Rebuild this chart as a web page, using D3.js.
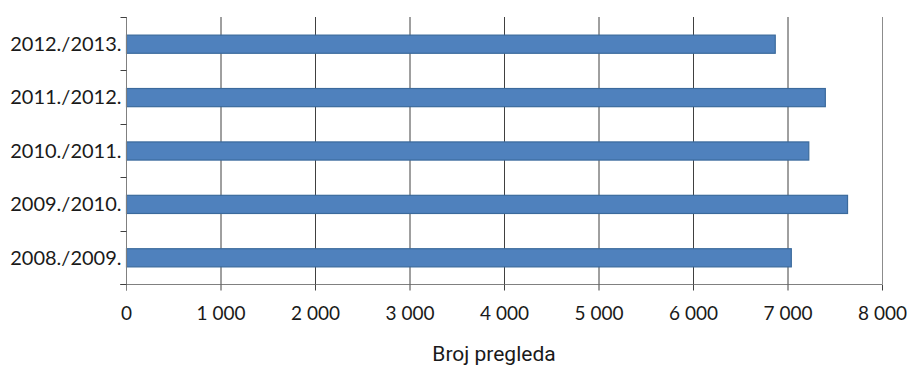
<!DOCTYPE html>
<html><head><meta charset="utf-8">
<script src="https://cdn.jsdelivr.net/npm/d3@7"></script>
<style>body{margin:0;background:#fff}svg{display:block}</style>
</head><body>
<script>
const categories = ["2012./2013.","2011./2012.","2010./2011.","2009./2010.","2008./2009."];
const values = [6865, 7395, 7220, 7630, 7035];
const xTicks = [0,1000,2000,3000,4000,5000,6000,7000,8000];
const axisTitle = "Broj pregleda";

const W=907,H=365;
const svg=d3.select("body").append("svg").attr("width",W).attr("height",H);
const x=d3.scaleLinear().domain([0,8000]).range([126,882]);
const y=d3.scaleBand().domain(categories).range([17,284]).paddingInner(0.66).paddingOuter(0.33);
const fmt=d=>d3.format(",")(d).replace(/,/g," ");

// gridlines
svg.append("g").selectAll("line").data(xTicks.slice(1)).join("line")
  .attr("x1",d=>x(d)+0.5).attr("x2",d=>x(d)+0.5).attr("y1",17).attr("y2",284)
  .attr("stroke",d=>d===8000?"#8c8c8c":"#404040").attr("stroke-width",1);

// bars
svg.append("g").selectAll("rect").data(values).join("rect")
  .attr("x",x(0)+0.5).attr("y",(d,i)=>y(categories[i])+0.5)
  .attr("width",d=>x(d)-x(0)).attr("height",y.bandwidth())
  .attr("fill","#4f81bd").attr("stroke","#3b6a9c").attr("stroke-width",1.2);

// x axis
const xa=svg.append("g").attr("transform","translate(0,284.5)")
  .call(d3.axisBottom(x).tickValues(xTicks).tickFormat(fmt).tickSizeOuter(0).tickSize(6));
xa.select(".domain").attr("stroke","#808080").attr("d","M120,0H882");
xa.selectAll(".tick line").attr("stroke","#404040");
xa.selectAll("text").attr("font-family","Lato, sans-serif").attr("font-size",19).attr("fill","#1a1a1a").attr("dy",0).attr("y",35);

// y axis
const ya=svg.append("g").attr("transform","translate(126.5,0)");
ya.append("line").attr("x1",0).attr("x2",0).attr("y1",17).attr("y2",290).attr("stroke","#808080");
const step=(284-17)/categories.length;
ya.selectAll("line.t").data(d3.range(categories.length+1)).join("line").attr("class","t")
  .attr("x1",-6).attr("x2",0).attr("y1",d=>Math.round(17+d*step)+0.5).attr("y2",d=>Math.round(17+d*step)+0.5)
  .attr("stroke","#404040");
ya.selectAll("text").data(categories).join("text")
  .attr("x",-5).attr("y",c=>y(c)+y.bandwidth()/2).attr("dy","0.36em")
  .attr("text-anchor","end").attr("font-family","Lato, sans-serif").attr("font-size",20).attr("fill","#1a1a1a").text(c=>c);

svg.append("text").attr("x",494).attr("y",361).attr("text-anchor","middle")
  .attr("font-family","Roboto, sans-serif").attr("font-size",21).attr("fill","#1a1a1a").text(axisTitle);
</script>
</body></html>
